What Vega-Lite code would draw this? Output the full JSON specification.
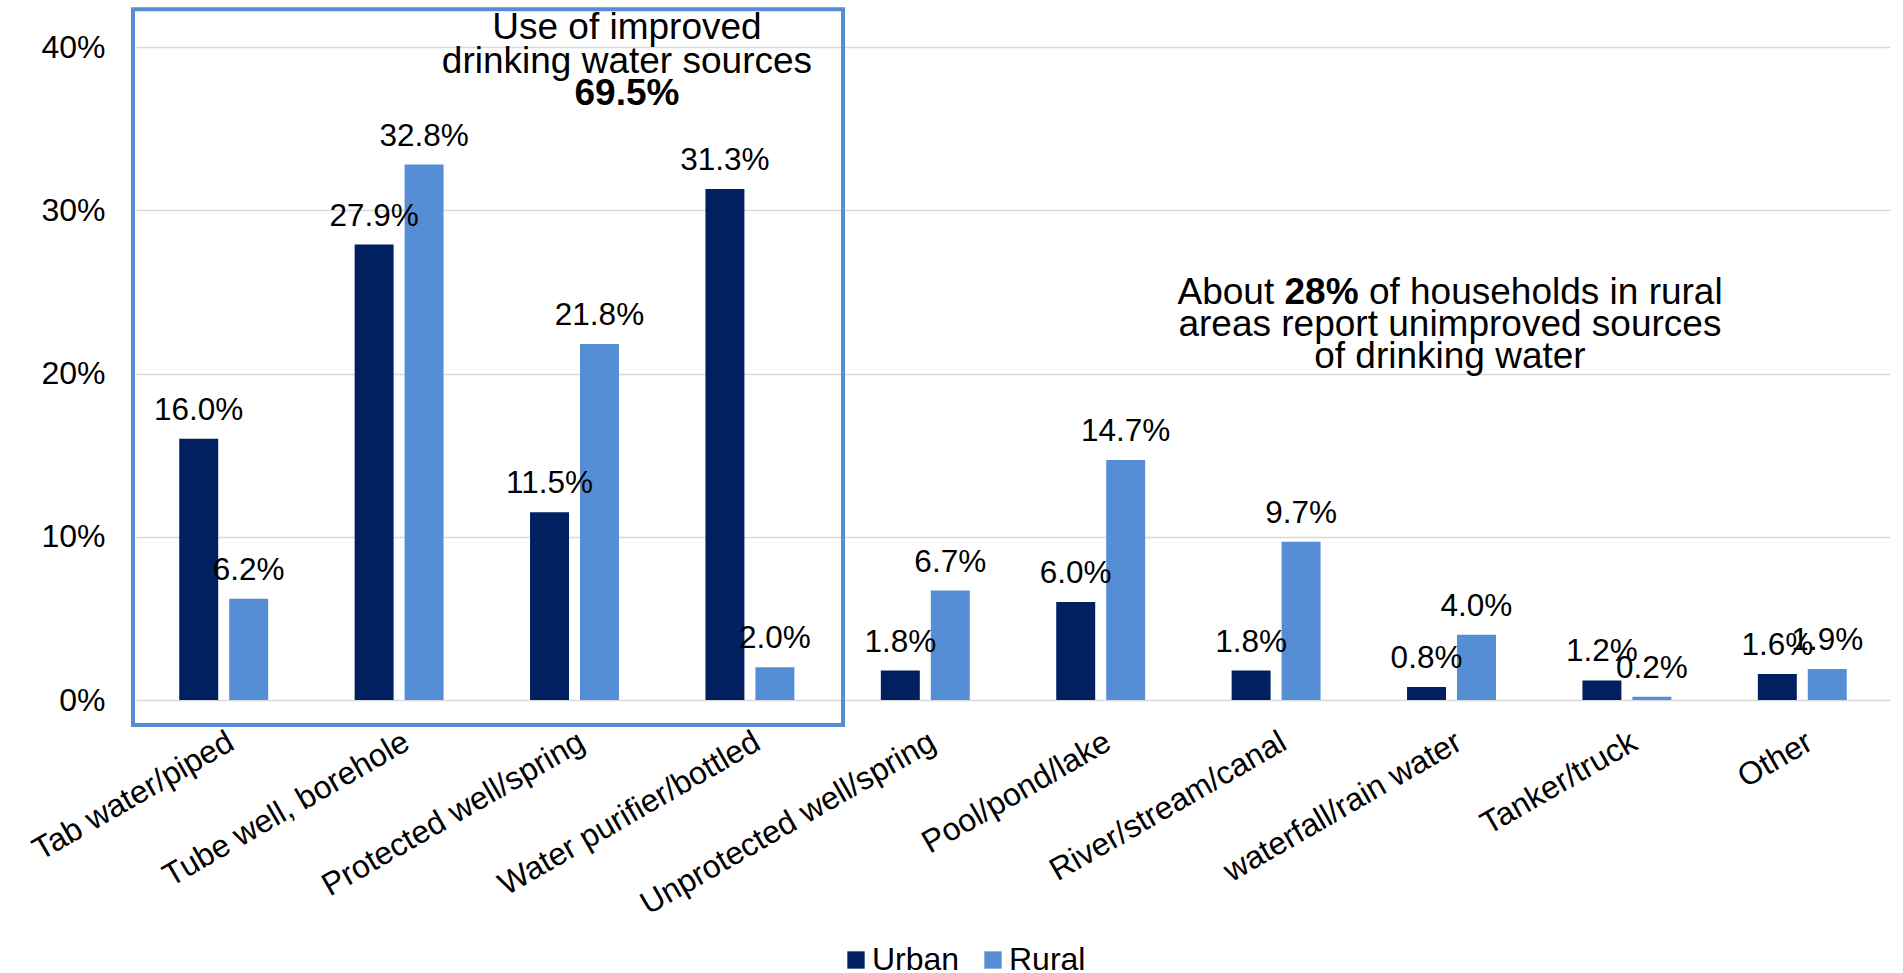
{
  "$schema": "https://vega.github.io/schema/vega-lite/v6.json",
  "width": 1754,
  "height": 653,
  "autosize": "none",
  "padding": {"left": 136, "top": 47, "right": 13, "bottom": 273},
  "background": "white",
  "config": {
    "font": "Liberation Sans",
    "view": {"stroke": null},
    "text": {"font": "Liberation Sans", "color": "black"}
  },
  "layer": [
    {
      "data": {
        "values": [
          {"source": "Tab water/piped", "area": "Urban", "share": 0.160},
          {"source": "Tab water/piped", "area": "Rural", "share": 0.062},
          {"source": "Tube well, borehole", "area": "Urban", "share": 0.279},
          {"source": "Tube well, borehole", "area": "Rural", "share": 0.328},
          {"source": "Protected well/spring", "area": "Urban", "share": 0.115},
          {"source": "Protected well/spring", "area": "Rural", "share": 0.218},
          {"source": "Water purifier/bottled", "area": "Urban", "share": 0.313},
          {"source": "Water purifier/bottled", "area": "Rural", "share": 0.020},
          {"source": "Unprotected well/spring", "area": "Urban", "share": 0.018},
          {"source": "Unprotected well/spring", "area": "Rural", "share": 0.067},
          {"source": "Pool/pond/lake", "area": "Urban", "share": 0.060},
          {"source": "Pool/pond/lake", "area": "Rural", "share": 0.147},
          {"source": "River/stream/canal", "area": "Urban", "share": 0.018},
          {"source": "River/stream/canal", "area": "Rural", "share": 0.097},
          {"source": "waterfall/rain water", "area": "Urban", "share": 0.008},
          {"source": "waterfall/rain water", "area": "Rural", "share": 0.040},
          {"source": "Tanker/truck", "area": "Urban", "share": 0.012},
          {"source": "Tanker/truck", "area": "Rural", "share": 0.002},
          {"source": "Other", "area": "Urban", "share": 0.016},
          {"source": "Other", "area": "Rural", "share": 0.019}
        ]
      },
      "encoding": {
        "x": {
          "field": "source",
          "type": "nominal",
          "sort": null,
          "scale": {"paddingInner": 0.493, "paddingOuter": 0.2465},
          "axis": {
            "title": null,
            "labelAngle": -30,
            "labelFontSize": 32,
            "labelColor": "black",
            "labelFont": "Liberation Sans",
            "labelPadding": 26,
            "labelDx": -8,
            "labelDy": -4,
            "labelLimit": 0,
            "ticks": false,
            "domain": false,
            "grid": false
          }
        },
        "xOffset": {
          "field": "area",
          "type": "nominal",
          "sort": ["Urban", "Rural"],
          "scale": {"paddingInner": 0.22, "paddingOuter": 0}
        },
        "y": {
          "field": "share",
          "type": "quantitative",
          "scale": {"domain": [0, 0.4], "nice": false},
          "axis": {
            "title": null,
            "format": ".0%",
            "values": [0, 0.1, 0.2, 0.3, 0.4],
            "labelFontSize": 32,
            "labelColor": "black",
            "labelFont": "Liberation Sans",
            "labelPadding": 31,
            "ticks": false,
            "domain": false,
            "grid": true,
            "gridColor": "#d9d9d9",
            "gridWidth": 1.6
          }
        }
      },
      "layer": [
        {
          "mark": {"type": "bar"},
          "encoding": {
            "color": {
              "field": "area",
              "type": "nominal",
              "scale": {"domain": ["Urban", "Rural"], "range": ["#002060", "#558ed5"]},
              "legend": {
                "title": null,
                "orient": "none",
                "direction": "horizontal",
                "legendX": 704,
                "legendY": 897,
                "padding": 0,
                "labelFontSize": 32,
                "labelColor": "black",
                "labelFont": "Liberation Sans",
                "symbolType": "square",
                "symbolSize": 300,
                "symbolStrokeWidth": 0,
                "labelOffset": 0,
                "columnPadding": 17
              }
            }
          }
        },
        {
          "mark": {"type": "text", "baseline": "alphabetic", "dy": -19, "fontSize": 31.5, "color": "black"},
          "encoding": {
            "text": {"field": "share", "type": "quantitative", "format": ".1%"}
          }
        }
      ]
    },
    {
      "data": {"values": [{}]},
      "encoding": {
        "x": {"type": "quantitative", "scale": {"domain": [0, 10], "nice": false, "zero": false}, "axis": null},
        "y": {"type": "quantitative", "scale": {"domain": [0, 0.4], "nice": false}}
      },
      "layer": [
        {
          "mark": {"type": "rect", "filled": false, "stroke": "#558ed5", "strokeWidth": 4},
          "encoding": {
            "x": {"datum": -0.017, "type": "quantitative"},
            "x2": {"datum": 4.031},
            "y": {"datum": 0.4231, "type": "quantitative"},
            "y2": {"datum": -0.0153}
          }
        },
        {
          "mark": {"type": "text", "align": "center", "baseline": "alphabetic", "fontSize": 37, "lineHeight": 33.5, "text": ["Use of improved", "drinking water sources"]},
          "encoding": {
            "x": {"datum": 2.799, "type": "quantitative"},
            "y": {"datum": 0.4046, "type": "quantitative"}
          }
        },
        {
          "mark": {"type": "text", "align": "center", "baseline": "alphabetic", "fontSize": 37, "fontWeight": "bold", "text": "69.5%"},
          "encoding": {
            "x": {"datum": 2.799, "type": "quantitative"},
            "y": {"datum": 0.3642, "type": "quantitative"}
          }
        },
        {
          "mark": {"type": "text", "align": "left", "baseline": "alphabetic", "fontSize": 37, "text": "About"},
          "encoding": {
            "x": {"datum": 5.938, "type": "quantitative"},
            "y": {"datum": 0.2425, "type": "quantitative"}
          }
        },
        {
          "mark": {"type": "text", "align": "left", "baseline": "alphabetic", "fontSize": 37, "fontWeight": "bold", "text": "28%"},
          "encoding": {
            "x": {"datum": 6.548, "type": "quantitative"},
            "y": {"datum": 0.2425, "type": "quantitative"}
          }
        },
        {
          "mark": {"type": "text", "align": "left", "baseline": "alphabetic", "fontSize": 37, "text": "of households in rural"},
          "encoding": {
            "x": {"datum": 7.029, "type": "quantitative"},
            "y": {"datum": 0.2425, "type": "quantitative"}
          }
        },
        {
          "mark": {"type": "text", "align": "center", "baseline": "alphabetic", "fontSize": 37, "lineHeight": 31.5, "text": ["areas report unimproved sources", "of drinking water"]},
          "encoding": {
            "x": {"datum": 7.491, "type": "quantitative"},
            "y": {"datum": 0.2229, "type": "quantitative"}
          }
        }
      ]
    }
  ],
  "resolve": {"scale": {"x": "independent"}}
}
